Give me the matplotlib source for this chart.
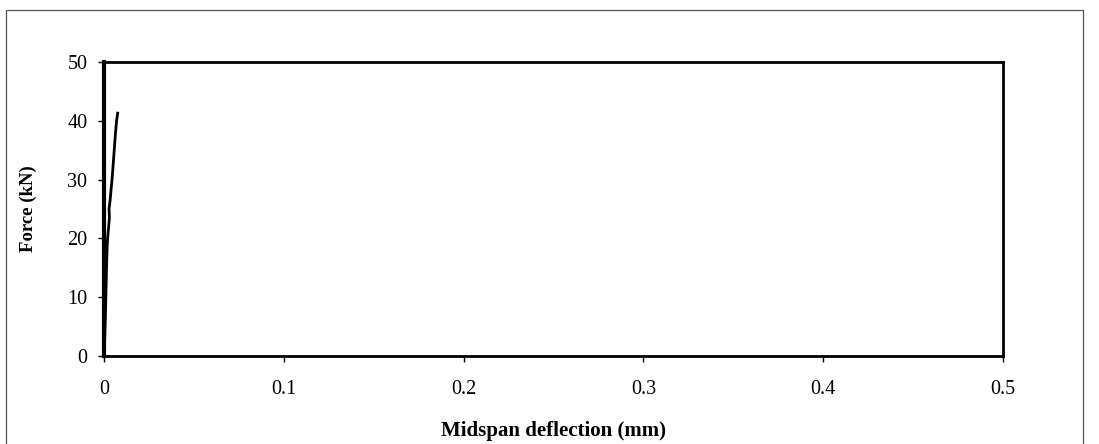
import matplotlib
matplotlib.use("Agg")
import matplotlib.pyplot as plt
from matplotlib.patches import Rectangle

# Data
deflection = [0.0, 0.0004, 0.0008, 0.0011, 0.0014, 0.0017, 0.0020, 0.0026, 0.0030, 0.0028, 0.0034, 0.0040, 0.0046, 0.0052, 0.0058, 0.0064, 0.0070, 0.0076]
force =      [0.0, 3.0,    7.0,    11.0,   15.0,   18.0,   20.0,   22.0,   23.5,   25.0,   26.5,   28.5,   30.5,   33.0,   35.5,   38.0,   40.0,   41.3]

x_ticks = [0, 0.1, 0.2, 0.3, 0.4, 0.5]
x_tick_labels = ["0", "0.1", "0.2", "0.3", "0.4", "0.5"]
y_ticks = [0, 10, 20, 30, 40, 50]

plt.rcParams['font.family'] = ['Liberation Serif', 'DejaVu Serif']

W, H = 1099, 444
fig = plt.figure(figsize=(W / 100, H / 100), dpi=100)
fig.patch.set_facecolor("white")

# outer frame
fig.patches.append(Rectangle((6 / W, -0.05), (1083 - 6) / W, (H - 10) / H + 0.05,
                             transform=fig.transFigure, fill=False,
                             edgecolor="#555555", linewidth=0.9))

ax = fig.add_axes([104 / W, (H - 356) / H, (1003 - 104) / W, (356 - 62) / H])
ax.plot(deflection, force, color="black", linewidth=2.0, solid_joinstyle="round")

ax.set_xlim(0, 0.5)
ax.set_ylim(0, 50)
ax.set_xticks(x_ticks)
ax.set_xticklabels(x_tick_labels)
ax.set_yticks(y_ticks)
for lab in ax.get_xticklabels() + ax.get_yticklabels():
    lab.set_fontsize(14.5)
ax.tick_params(axis="both", direction="out", length=4, width=1, color="black")
ax.tick_params(axis="x", pad=13)
ax.tick_params(axis="y", pad=8)

for side in ["top", "right", "bottom"]:
    ax.spines[side].set_linewidth(2.0)
ax.spines["left"].set_linewidth(3.0)

ax.set_xlabel("Midspan deflection (mm)", fontsize=15, fontweight="bold", labelpad=16)
ax.set_ylabel("Force (kN)", fontsize=13.5, fontweight="bold", labelpad=22)

fig.savefig("out.png", dpi=100)
